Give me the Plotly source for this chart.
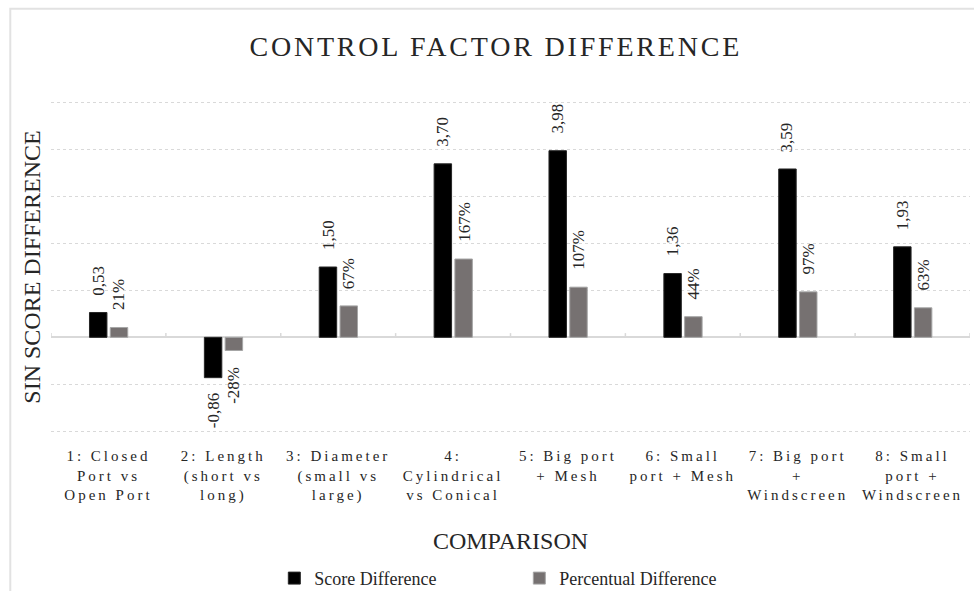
import plotly.graph_objects as go

# Comparison categories (x axis)
categories = [
    "1: Closed<br>Port vs<br>Open Port",
    "2: Length<br>(short vs<br>long)",
    "3: Diameter<br>(small vs<br>large)",
    "4:<br>Cylindrical<br>vs Conical",
    "5: Big port<br>+ Mesh",
    "6: Small<br>port + Mesh",
    "7: Big port<br>+<br>Windscreen",
    "8: Small<br>port +<br>Windscreen",
]
# Score difference per comparison
score_diff = [0.53, -0.86, 1.50, 3.70, 3.98, 1.36, 3.59, 1.93]
# Percentual difference per comparison (in %)
pct_diff = [21, -28, 67, 167, 107, 44, 97, 63]

SERIF = "Liberation Serif, Times New Roman, serif"
BLACK = "#000000"
GREY = "#767171"
GRID = "#d9d9d9"

x_pos = list(range(len(categories)))
BAR_W = 0.152
OFF_SCORE = -0.165
OFF_PCT = 0.016

fig = go.Figure()
fig.add_trace(go.Bar(
    name="Score Difference", x=x_pos, y=score_diff,
    width=BAR_W, offset=OFF_SCORE,
    marker=dict(color=BLACK, line=dict(color="#262626", width=1)),
))
fig.add_trace(go.Bar(
    name="Percentual Difference", x=x_pos, y=[p / 100 for p in pct_diff],
    width=BAR_W, offset=OFF_PCT,
    marker=dict(color=GREY, line=dict(color="#a6a6a6", width=1)),
))

# rotated value labels just beyond each bar end
annotations = []
for i, (s, p) in enumerate(zip(score_diff, pct_diff)):
    for val, txt, off in (
        (s, f"{s:.2f}".replace(".", ","), OFF_SCORE),
        (p / 100, f"{p}%", OFF_PCT),
    ):
        up = val >= 0
        annotations.append(dict(
            x=i + off + BAR_W / 2, y=val, xref="x", yref="y",
            text=txt, showarrow=False, textangle=-90,
            xanchor="center", yanchor="bottom" if up else "top",
            yshift=15 if up else -14,
            font=dict(family=SERIF, size=17, color="#262626"),
        ))

# category separator ticks on the zero line
shapes = []
for b in range(len(categories) + 1):
    shapes.append(dict(
        type="line", xref="x", yref="y",
        x0=b - 0.5, x1=b - 0.5, y0=0, y1=0.09,
        line=dict(color=GRID, width=1.5),
    ))
# chart area border
shapes.append(dict(
    type="rect", xref="paper", yref="paper",
    x0=-0.0443, x1=1.2, y0=-0.7, y1=1.278,
    line=dict(color="#e2e2e2", width=2), layer="below",
))

fig.update_layout(
    width=974, height=591,
    margin=dict(l=51, r=4, t=100.8, b=158.4, autoexpand=False),
    paper_bgcolor="white", plot_bgcolor="white",
    font=dict(family=SERIF, color="#262626"),
    barmode="group",
    title=dict(
        text="CONTROL FACTOR DIFFERENCE",
        x=0.509, xanchor="center", xref="container",
        y=1 - 46 / 591, yanchor="middle", yref="container",
        font=dict(family=SERIF, size=28, color="#262626"),
    ),
    xaxis=dict(
        range=[-0.5, len(categories) - 0.5],
        tickmode="array", tickvals=x_pos, ticktext=categories,
        showgrid=False, showline=False, zeroline=False, ticks="",
        tickfont=dict(family=SERIF, size=15, color="#262626"),
        ticklabelstandoff=12, automargin=False,
        title=dict(text="COMPARISON", standoff=29,
                   font=dict(family=SERIF, size=24, color="#262626")),
    ),
    yaxis=dict(
        range=[-2.04, 5.04], dtick=1, tick0=0, showticklabels=False, ticks="",
        showgrid=True, gridcolor=GRID, griddash="dot", gridwidth=1,
        zeroline=True, zerolinecolor=GRID, zerolinewidth=2,
        showline=False, automargin=False,
        title=dict(text="SIN SCORE DIFFERENCE", standoff=2,
                   font=dict(family=SERIF, size=24, color="#262626")),
    ),
    legend=dict(
        orientation="h", x=0.243, xanchor="left",
        y=-0.438, yanchor="middle",
        entrywidth=200, entrywidthmode="pixels",
        font=dict(family=SERIF, size=18, color="#262626"),
        bgcolor="rgba(0,0,0,0)",
    ),
    annotations=annotations,
    shapes=shapes,
)

# spaced lettering for the title and category labels
post = """
var gd = document.getElementsByClassName('plotly-graph-div')[0];
function spaceOut(){
  gd.querySelectorAll('.xtick text').forEach(function(t){ t.style.letterSpacing = '3px'; });
  gd.querySelectorAll('.gtitle').forEach(function(t){ t.style.letterSpacing = '2.8px'; });
}
spaceOut();
gd.on('plotly_afterplot', spaceOut);
"""
fig.write_html("out.html", post_script=post)
